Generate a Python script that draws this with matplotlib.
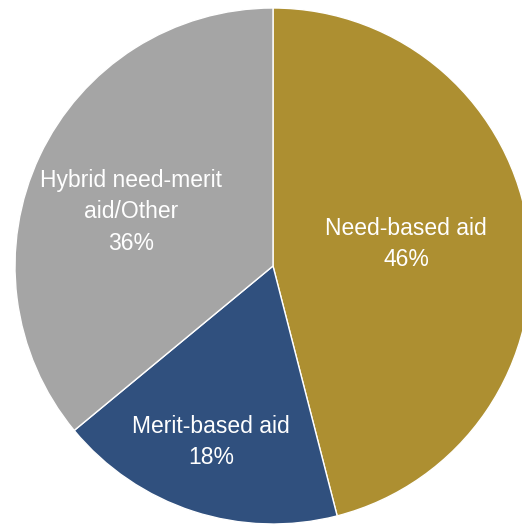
import matplotlib
matplotlib.use("Agg")
import matplotlib.pyplot as plt
from matplotlib import font_manager

categories = ["Need-based aid", "Merit-based aid", "Hybrid need-merit\naid/Other"]
values = [46, 18, 36]
colors = ["#AD8F31", "#30507E", "#A5A5A5"]

names = {f.name for f in font_manager.fontManager.ttflist}
if "Liberation Sans Narrow" in names:
    fam, fs = ["Liberation Sans Narrow", "DejaVu Sans"], 18
else:
    fam, fs = ["Liberation Sans", "DejaVu Sans"], 16.5

W, H = 522, 525
fig = plt.figure(figsize=(W / 100, H / 100), dpi=100)
ax = fig.add_axes([0, 0, 1, 1])

cx, cy, r = 273, H - 266, 258
wedges, _ = ax.pie(values, colors=colors, startangle=90, counterclock=False,
                   center=(cx, cy), radius=r, frame=True,
                   wedgeprops=dict(edgecolor="white", linewidth=1))
ax.set_xlim(0, W)
ax.set_ylim(0, H)
ax.set_aspect("equal")
ax.axis("off")

label_pos = [(406, H - 244), (211, H - 442), (131, H - 212)]
for cat, v, (x, y) in zip(categories, values, label_pos):
    ax.text(x, y, f"{cat}\n{v}%", ha="center", va="center", color="white",
            fontsize=fs, family=fam, linespacing=1.45)

fig.savefig("out.png", dpi=100)
